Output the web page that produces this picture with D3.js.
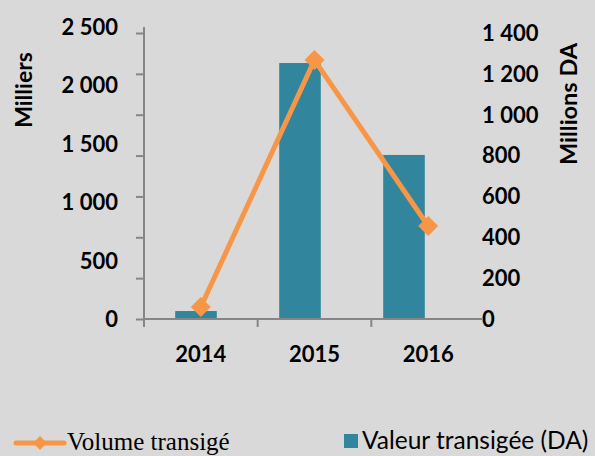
<!DOCTYPE html>
<html><head><meta charset="utf-8">
<script src="https://cdn.jsdelivr.net/npm/d3@7/dist/d3.min.js"></script>
<style>html,body{margin:0;padding:0;background:#d9d9d9;}svg{display:block;}</style>
</head><body>
<svg id="c" width="595" height="456"></svg>
<script>
const years = ["2014", "2015", "2016"];
const volume = [103, 2217, 796];      // Volume transigé (Milliers) – left axis
const valeur = [39, 1253, 803];       // Valeur transigée (Millions DA) – right axis
const leftTicks = [0, 500, 1000, 1500, 2000, 2500];
const rightTicks = [0, 200, 400, 600, 800, 1000, 1200, 1400];
const leftTitle = "Milliers";
const rightTitle = "Millions DA";
const lineName = "Volume transigé";
const barName = "Valeur transigée (DA)";

const svg = d3.select("#c");
const W = 595, H = 456;
svg.append("rect").attr("width", W).attr("height", H).attr("fill", "#d9d9d9");

const axisCol = "#868686", barCol = "#31859c", lineCol = "#f79646";
const font = "Lato, 'Open Sans', sans-serif";

const x0 = 144, x1 = 483, yB = 319;
const yL = d3.scaleLinear().domain([0, 2500]).range([yB, 27]);
const yR = d3.scaleLinear().domain([0, 1400]).range([yB, 33]);
const xCat = d3.scaleBand().domain(years).range([x0, 485]);
const xBar = d3.scaleBand().domain(years).range([x0, 456]).paddingInner(0.6).paddingOuter(0.3);

// bars
svg.append("g").selectAll("rect").data(years).join("rect")
  .attr("x", d => xBar(d))
  .attr("width", xBar.bandwidth())
  .attr("y", (d, i) => yR(valeur[i]))
  .attr("height", (d, i) => yB - yR(valeur[i]))
  .attr("fill", barCol);

// left axis line + ticks (ticks at secondary gridline positions)
const gL = svg.append("g").attr("transform", `translate(${x0},0)`)
  .call(d3.axisLeft(yR).tickValues(rightTicks).tickFormat("").tickSize(8).tickSizeOuter(0));
gL.select(".domain").remove();
gL.selectAll("line").attr("stroke", axisCol).attr("stroke-width", 2);
svg.append("line").attr("x1", x0).attr("x2", x0).attr("y1", 27).attr("y2", yB + 8)
  .attr("stroke", axisCol).attr("stroke-width", 2);

// left labels
svg.append("g").selectAll("text").data(leftTicks).join("text")
  .attr("x", 118).attr("y", d => yL(d)).attr("dy", "0.36em")
  .attr("text-anchor", "end").attr("font-family", font).attr("font-weight", 700)
  .attr("font-size", 22).attr("fill", "#000")
  .text(d => d3.format(",")(d).replace(/,/g, "\u202f"));

// right labels
svg.append("g").selectAll("text").data(rightTicks).join("text")
  .attr("x", 482).attr("y", d => yR(d)).attr("dy", "0.36em")
  .attr("text-anchor", "start").attr("font-family", font).attr("font-weight", 700)
  .attr("font-size", 22).attr("fill", "#000")
  .text(d => d3.format(",")(d).replace(/,/g, "\u202f"));

// x axis
const gX = svg.append("g").attr("transform", `translate(0,${yB})`)
  .call(d3.axisBottom(xCat).tickValues([]).tickSizeOuter(0));
gX.select(".domain").attr("stroke", axisCol).attr("stroke-width", 2).attr("d", `M${x0},0H${x1}`);
const bounds = [x0, ...years.slice(1).map(d => xCat(d))];
gX.selectAll(".tk").data(bounds).join("line").attr("class", "tk")
  .attr("x1", d => d).attr("x2", d => d).attr("y1", 0).attr("y2", 8)
  .attr("stroke", axisCol).attr("stroke-width", 2);
gX.selectAll(".lb").data(years).join("text").attr("class", "lb")
  .attr("x", d => xCat(d) + xCat.bandwidth() / 2).attr("y", 43)
  .attr("text-anchor", "middle").attr("font-family", font).attr("font-weight", 700)
  .attr("font-size", 22).attr("fill", "#000").text(d => d);

// line
const cx = d => xCat(d) + xCat.bandwidth() / 2;
const line = d3.line().x((d, i) => cx(years[i])).y(d => yL(d));
svg.append("path").datum(volume).attr("d", line).attr("fill", "none")
  .attr("stroke", lineCol).attr("stroke-width", 5).attr("stroke-linejoin", "round");
const diamond = s => `M0,${-s}L${s},0L0,${s}L${-s},0Z`;
svg.append("g").selectAll("path").data(volume).join("path")
  .attr("transform", (d, i) => `translate(${cx(years[i])},${yL(d)})`)
  .attr("d", diamond(10)).attr("fill", lineCol);

// axis titles
svg.append("text").attr("transform", `translate(32,${90}) rotate(-90)`)
  .attr("text-anchor", "middle").attr("font-family", font).attr("font-weight", 700)
  .attr("font-size", 23).attr("fill", "#000").text(leftTitle);
svg.append("text").attr("transform", `translate(577,${104}) rotate(-90)`)
  .attr("text-anchor", "middle").attr("font-family", font).attr("font-weight", 700)
  .attr("font-size", 23.5).attr("fill", "#000").text(rightTitle);

// legend
const lg = svg.append("g");
lg.append("line").attr("x1", 16).attr("x2", 64).attr("y1", 443).attr("y2", 443)
  .attr("stroke", lineCol).attr("stroke-width", 5).attr("stroke-linecap", "round");
lg.append("path").attr("transform", "translate(40,443)").attr("d", diamond(7)).attr("fill", lineCol);
lg.append("text").attr("x", 67).attr("y", 450).attr("font-family", "'Liberation Serif', 'DejaVu Serif', serif")
  .attr("font-size", 25).attr("fill", "#000").text(lineName);
lg.append("rect").attr("x", 344).attr("y", 434).attr("width", 14).attr("height", 14).attr("fill", barCol);
lg.append("text").attr("x", 362).attr("y", 449).attr("font-family", font)
  .attr("font-size", 24.5).attr("fill", "#000").text(barName);
</script>
</body></html>
